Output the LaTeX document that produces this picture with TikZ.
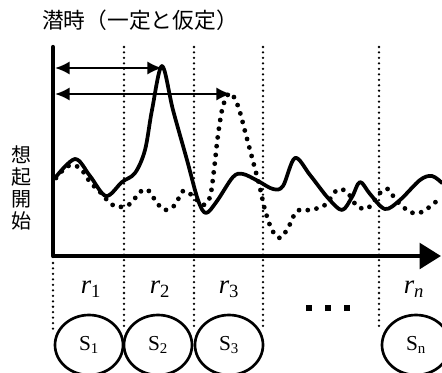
\documentclass[tikz,border=0pt]{standalone}
\usepackage{fontspec}
\setmainfont{Liberation Serif}
\newfontfamily\jpfont{Noto Sans CJK JP}
\usetikzlibrary{arrows.meta,shapes.geometric}

\tikzset{every picture/.style={line width=0.75pt}}
\tikzset{
  axisline/.style={line width=3.2pt},
  gridline/.style={line width=1.9pt, line cap=round, dash pattern=on 0pt off 4.1pt},
  recall/.style={line width=2.8pt, line cap=round, line join=round},
  recalldots/.style={line width=3.6pt, line cap=round, dash pattern=on 0pt off 6.6pt},
  latency/.style={line width=1.9pt, {Latex[length=11pt,width=10pt]}-{Latex[length=11pt,width=10pt]}},
  section/.style={draw, ellipse, line width=2pt, minimum width=51pt, minimum height=45pt, inner sep=0pt},
}

\begin{document}
\begin{tikzpicture}[x=0.75pt,y=0.75pt,yscale=-1,xscale=1]
\useasboundingbox (0,0) rectangle (442,372);
\clip (0,0) rectangle (442,372);

% Coordinates
\coordinate (ytop) at (53,47);
\coordinate (origin) at (53,256);
\coordinate (xend) at (441,256);
\coordinate (lat1s) at (55,68);
\coordinate (lat1e) at (162,68);
\coordinate (lat2s) at (55,94);
\coordinate (lat2e) at (231,94);

%Dotted Lines
\draw [gridline] (53,263) -- (53,330);
\foreach \xx in {124,194,263,379}
  \draw [gridline] (\xx,47) -- (\xx,330);

%Curve Lines (dotted recall)
\draw [recalldots] plot[smooth, tension=0.55] coordinates {(56,178) (68,166) (80,168) (90,182) (100,192) (110,203) (118,207) (130,204) (140,192) (148,190) (157,203) (165,210) (175,205) (183,191) (193,196) (203,205) (210,197) (214,170) (218,135) (223,106) (230,93) (238,106) (246,135) (254,165) (260,188) (265,210) (272,230) (280,238) (288,228) (297,211) (310,210) (325,205) (337,190) (347,192) (357,206) (368,208) (380,193) (388,189) (396,200) (410,212) (422,212) (433,204) (442,197)};

%Curve Lines (solid recall)
\draw [recall] plot[smooth, tension=0.55] coordinates {(55,178) (75,159) (90,176) (106,196) (122,182) (135,173) (145,150) (152,110) (162,66) (173,110) (187,160) (198,200) (206,213) (217,201) (233,177) (243,174) (258,181) (273,189) (283,186) (295,158) (310,175) (328,198) (342,210) (352,197) (360,182) (370,194) (385,209) (400,200) (420,180) (432,176) (442,183)};

%Axes
\draw [axisline, line cap=round] (ytop) -- (origin);
\draw [axisline, -{Triangle[length=16pt,width=19pt]}] (origin) -- (xend);

%Latency arrows
\draw [latency] (lat1s) -- (lat1e);
\draw [latency] (lat2s) -- (lat2e);

% Text Node
\node (title) at (140,20) {\jpfont\fontsize{16.3}{18}\selectfont 潜時（一定と仮定）};
% Text Node
\node (onset) [align=center, inner sep=0pt, font=\jpfont\fontsize{15}{16.5}\selectfont] at (22,188) {想\\起\\開\\始};

% Text Node
\node (r1) at (91,289) {\fontsize{20}{22}\selectfont\textit{r}\textsubscript{1}};
\node (r2) at (160,289) {\fontsize{20}{22}\selectfont\textit{r}\textsubscript{2}};
\node (r3) at (229,289) {\fontsize{20}{22}\selectfont\textit{r}\textsubscript{3}};
\node (rn) at (414,289) {\fontsize{20}{22}\selectfont\textit{r}\textsubscript{\textit{n}}};
\node (gap) at (328,308) {\rule{4.5pt}{4.5pt}\hspace{9.4pt}\rule{4.5pt}{4.5pt}\hspace{9.4pt}\rule{4.5pt}{4.5pt}};

%Shape: Ellipse
\node (s1) [section] at (89,345) {\fontsize{16}{18}\selectfont S\textsubscript{1}};
\node (s2) [section] at (158,345) {\fontsize{16}{18}\selectfont S\textsubscript{2}};
\node (s3) [section] at (229,345) {\fontsize{16}{18}\selectfont S\textsubscript{3}};
\node (sn) [section] at (416,345) {\fontsize{16}{18}\selectfont S\textsubscript{n}};

\end{tikzpicture}
\end{document}
